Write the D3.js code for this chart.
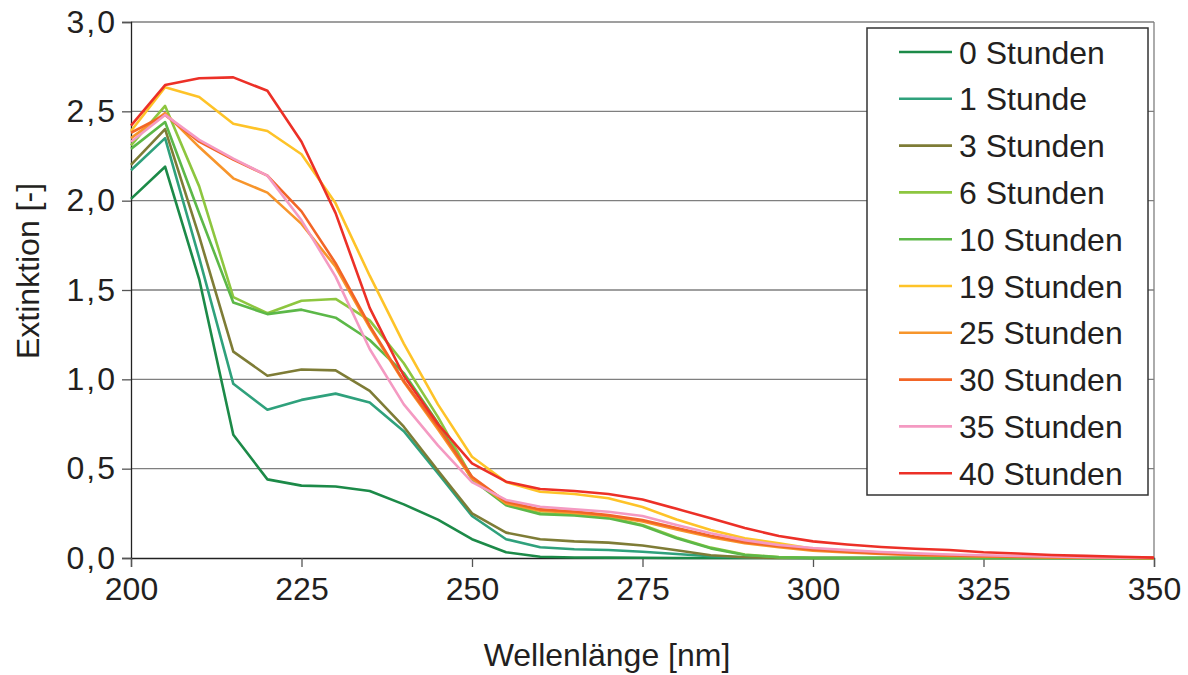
<!DOCTYPE html>
<html>
<head>
<meta charset="UTF-8">
<title>Extinktion</title>
<script src="https://cdn.jsdelivr.net/npm/d3@7"></script>
<style>
  body { margin: 0; background: #fff; }
  svg text { font-family: Arial, "Liberation Sans", Helvetica, sans-serif; }
</style>
</head>
<body>
<svg width="1188" height="675"></svg>
<script>
  // wavelengths 200..350 nm in 5 nm steps
  var wavelengths = d3.range(200, 351, 5);
  var yTicks = [0, 0.5, 1, 1.5, 2, 2.5, 3];
  var xTicks = [200, 225, 250, 275, 300, 325, 350];

  var labels = ["0 Stunden", "1 Stunde", "3 Stunden", "6 Stunden", "10 Stunden",
                "19 Stunden", "25 Stunden", "30 Stunden", "35 Stunden", "40 Stunden"];
  var colors = ["#1c8a48", "#2fa17c", "#7e7c36", "#8dc63f", "#5cb848",
                "#fec328", "#f7952b", "#f26526", "#f49ac2", "#ec3027"];

  var h0  = [2.01,2.19,1.56,0.69,0.44,0.405,0.40,0.375,0.30,0.215,0.105,0.032,0.007,0.003,0.002,0.001,0,0,0,0,0,0,0,0,0,0,0,0,0,0,0];
  var h1  = [2.17,2.35,1.68,0.975,0.83,0.885,0.92,0.87,0.71,0.475,0.235,0.105,0.06,0.049,0.045,0.035,0.022,0.01,0.004,0.001,0,0,0,0,0,0,0,0,0,0,0];
  var h3  = [2.20,2.40,1.80,1.155,1.02,1.055,1.05,0.935,0.735,0.49,0.25,0.142,0.105,0.093,0.086,0.07,0.043,0.015,0.004,0,0,0,0,0,0,0,0,0,0,0,0];
  var h6  = [2.31,2.53,2.08,1.46,1.37,1.44,1.45,1.33,1.09,0.79,0.45,0.30,0.25,0.242,0.228,0.185,0.115,0.058,0.02,0.005,0,0,0,0,0,0,0,0,0,0,0];
  var h10 = [2.29,2.44,1.93,1.43,1.365,1.39,1.345,1.22,1.035,0.755,0.44,0.295,0.245,0.238,0.222,0.18,0.11,0.054,0.017,0.004,0,0,0,0,0,0,0,0,0,0,0];
  var h19 = [2.39,2.635,2.58,2.43,2.39,2.26,1.985,1.58,1.20,0.86,0.567,0.425,0.371,0.358,0.334,0.285,0.216,0.157,0.11,0.082,0.052,0.04,0.03,0.022,0.016,0.011,0.008,0.005,0.003,0.002,0];
  var h25 = [2.35,2.49,2.30,2.125,2.045,1.87,1.63,1.29,0.985,0.72,0.445,0.305,0.265,0.252,0.235,0.205,0.16,0.117,0.083,0.06,0.041,0.031,0.023,0.017,0.012,0.008,0.006,0.004,0.002,0.001,0];
  var h30 = [2.38,2.48,2.33,2.23,2.14,1.94,1.65,1.30,0.99,0.735,0.455,0.315,0.272,0.26,0.24,0.212,0.168,0.124,0.089,0.066,0.046,0.035,0.026,0.019,0.014,0.01,0.007,0.005,0.003,0.001,0];
  var h35 = [2.33,2.48,2.34,2.235,2.14,1.89,1.575,1.17,0.86,0.63,0.425,0.325,0.287,0.272,0.259,0.235,0.185,0.138,0.10,0.073,0.056,0.044,0.034,0.026,0.02,0.015,0.011,0.008,0.005,0.003,0.001];
  var h40 = [2.42,2.647,2.685,2.69,2.615,2.33,1.93,1.40,1.02,0.75,0.53,0.427,0.386,0.375,0.358,0.327,0.275,0.222,0.168,0.123,0.093,0.076,0.062,0.052,0.045,0.032,0.025,0.017,0.012,0.007,0.002];

  var series = [h0, h1, h3, h6, h10, h19, h25, h30, h35, h40];

  var svg = d3.select("svg"),
      margin = {top: 22, right: 34, bottom: 117, left: 131},
      width = 1188 - margin.left - margin.right,
      height = 675 - margin.top - margin.bottom,
      g = svg.append("g").attr("transform", "translate(" + margin.left + "," + margin.top + ")");

  var x = d3.scaleLinear().domain([200, 350]).range([0, width]);
  var y = d3.scaleLinear().domain([0, 3]).range([height, 0]);

  var fmt = function(d) { return d3.format(".1f")(d).replace(".", ","); };

  // horizontal gridlines
  g.append("g")
    .selectAll("line")
    .data(yTicks.filter(function(d) { return d > 0; }))
    .enter().append("line")
    .attr("x1", 0).attr("x2", width)
    .attr("y1", function(d) { return y(d); })
    .attr("y2", function(d) { return y(d); })
    .attr("stroke", "#7f7f7f")
    .attr("stroke-width", 1.3);

  // right border
  g.append("line")
    .attr("x1", width).attr("x2", width)
    .attr("y1", 0).attr("y2", height)
    .attr("stroke", "#7f7f7f")
    .attr("stroke-width", 1.3);

  var yAxis = g.append("g")
    .call(d3.axisLeft(y).tickValues(yTicks).tickFormat(fmt).tickSize(9).tickPadding(5));

  var xAxis = g.append("g")
    .attr("transform", "translate(0," + height + ")")
    .call(d3.axisBottom(x).tickValues(xTicks).tickFormat(d3.format("d")).tickSize(9).tickPadding(10));

  [yAxis, xAxis].forEach(function(a) {
    a.select(".domain").attr("stroke", "#222").attr("stroke-width", 1.3);
    a.selectAll(".tick line").attr("stroke", "#555").attr("stroke-width", 1.3);
    a.selectAll(".tick text").attr("font-size", 32).attr("fill", "#231f20")
      .attr("font-family", null);
  });
  yAxis.selectAll(".tick text").attr("letter-spacing", 2);

  var line = d3.line()
    .x(function(d, i) { return x(wavelengths[i]); })
    .y(function(d) { return y(d); });

  g.selectAll(".series")
    .data(series)
    .enter().append("path")
    .attr("class", "series")
    .attr("d", line)
    .attr("fill", "none")
    .attr("stroke", function(d, i) { return colors[i]; })
    .attr("stroke-width", 2.6)
    .attr("stroke-linejoin", "round");

  // axis titles
  svg.append("text")
    .attr("x", 607)
    .attr("y", 666)
    .attr("text-anchor", "middle")
    .attr("font-size", 32)
    .attr("fill", "#231f20")
    .text("Wellenlänge [nm]");

  svg.append("text")
    .attr("transform", "translate(39,271) rotate(-90)")
    .attr("text-anchor", "middle")
    .attr("font-size", 32)
    .attr("fill", "#231f20")
    .text("Extinktion [-]");

  // legend
  var legend = svg.append("g").attr("transform", "translate(867,28)");
  legend.append("rect")
    .attr("width", 281).attr("height", 467)
    .attr("fill", "#fff")
    .attr("stroke", "#333")
    .attr("stroke-width", 1.5);

  var item = legend.selectAll(".item")
    .data(labels)
    .enter().append("g")
    .attr("class", "item")
    .attr("transform", function(d, i) { return "translate(0," + (24 + i * 46.8) + ")"; });

  item.append("line")
    .attr("x1", 32).attr("x2", 85)
    .attr("stroke", function(d, i) { return colors[i]; })
    .attr("stroke-width", 2.6);

  item.append("text")
    .attr("x", 92)
    .attr("dy", "0.36em")
    .attr("font-size", 32)
    .attr("fill", "#231f20")
    .text(function(d) { return d; });
</script>
</body>
</html>
